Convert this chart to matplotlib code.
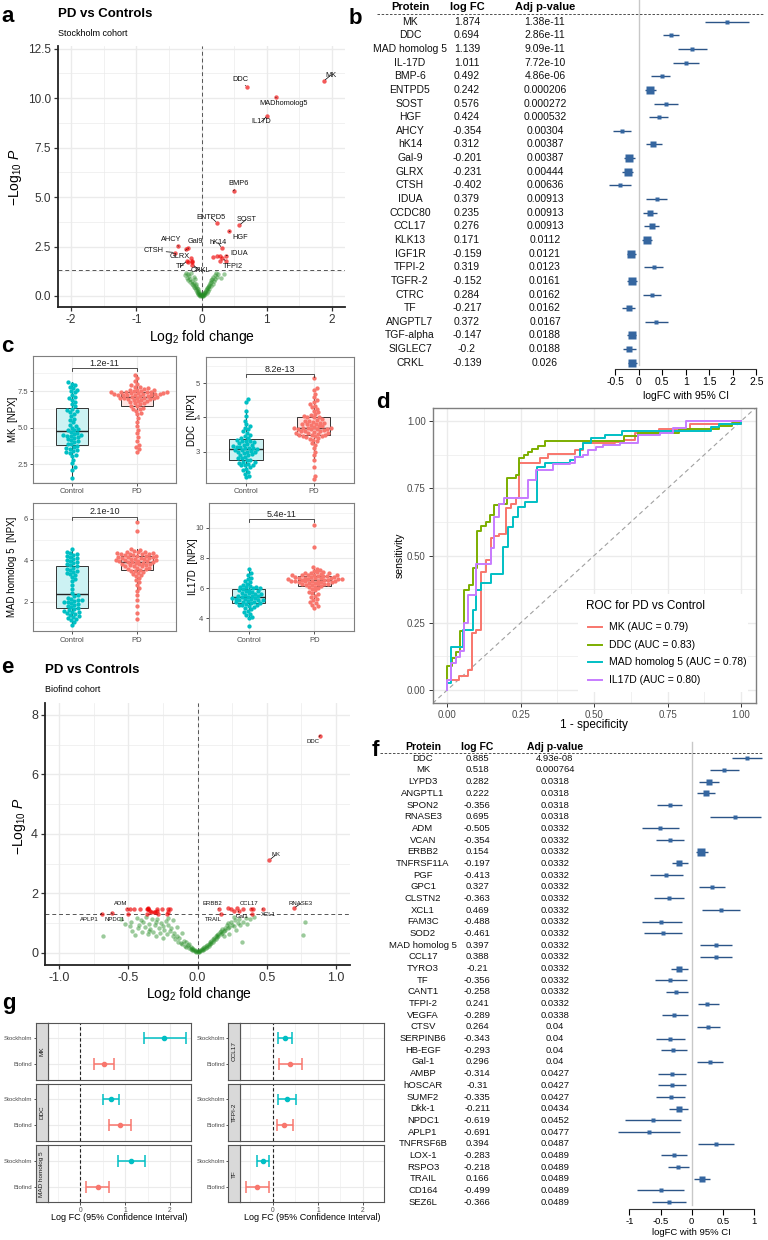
import numpy as np
import matplotlib
matplotlib.use('Agg')
import matplotlib.pyplot as plt
from matplotlib.transforms import blended_transform_factory
from matplotlib.patches import Rectangle

plt.rcParams['font.family'] = ['Liberation Sans', 'DejaVu Sans']
plt.rcParams['mathtext.fontset'] = 'custom'
plt.rcParams['mathtext.rm'] = 'Liberation Sans'
plt.rcParams['mathtext.it'] = 'Liberation Sans:italic'
plt.rcParams['axes.unicode_minus'] = False

#------------------------------------------------------------------ data
# Stockholm cohort (panel b)
b_prot = ['MK', 'DDC', 'MAD homolog 5', 'IL-17D', 'BMP-6', 'ENTPD5', 'SOST', 'HGF', 'AHCY', 'hK14',
          'Gal-9', 'GLRX', 'CTSH', 'IDUA', 'CCDC80', 'CCL17', 'KLK13', 'IGF1R', 'TFPI-2', 'TGFR-2',
          'CTRC', 'TF', 'ANGPTL7', 'TGF-alpha', 'SIGLEC7', 'CRKL']
b_fc = [1.874, 0.694, 1.139, 1.011, 0.492, 0.242, 0.576, 0.424, -0.354, 0.312,
        -0.201, -0.231, -0.402, 0.379, 0.235, 0.276, 0.171, -0.159, 0.319, -0.152,
        0.284, -0.217, 0.372, -0.147, -0.2, -0.139]
b_padj = ['1.38e-11', '2.86e-11', '9.09e-11', '7.72e-10', '4.86e-06', '0.000206', '0.000272', '0.000532',
          '0.00304', '0.00387', '0.00387', '0.00444', '0.00636', '0.00913', '0.00913', '0.00913',
          '0.0112', '0.0121', '0.0123', '0.0161', '0.0162', '0.0162', '0.0167', '0.0188', '0.0188', '0.026']
b_lo = [1.41, 0.51, 0.84, 0.74, 0.26, 0.13, 0.33, 0.22, -0.54, 0.155,
        -0.31, -0.355, -0.63, 0.155, 0.10, 0.11, 0.06, -0.24, 0.11, -0.24,
        0.09, -0.36, 0.135, -0.24, -0.33, -0.23]
b_hi = [2.35, 0.86, 1.45, 1.29, 0.67, 0.36, 0.84, 0.62, -0.17, 0.49,
        -0.08, -0.12, -0.17, 0.61, 0.38, 0.43, 0.28, -0.065, 0.52, -0.04,
        0.47, -0.08, 0.62, -0.05, -0.065, -0.04]

# Biofind cohort (panel f)
f_prot = ['DDC', 'MK', 'LYPD3', 'ANGPTL1', 'SPON2', 'RNASE3', 'ADM', 'VCAN', 'ERBB2', 'TNFRSF11A',
          'PGF', 'GPC1', 'CLSTN2', 'XCL1', 'FAM3C', 'SOD2', 'MAD homolog 5', 'CCL17', 'TYRO3', 'TF',
          'CANT1', 'TFPI-2', 'VEGFA', 'CTSV', 'SERPINB6', 'HB-EGF', 'Gal-1', 'AMBP', 'hOSCAR', 'SUMF2',
          'Dkk-1', 'NPDC1', 'APLP1', 'TNFRSF6B', 'LOX-1', 'RSPO3', 'TRAIL', 'CD164', 'SEZ6L']
f_fc = [0.885, 0.518, 0.282, 0.222, -0.356, 0.695, -0.505, -0.354, 0.154, -0.197,
        -0.413, 0.327, -0.363, 0.469, -0.488, -0.461, 0.397, 0.388, -0.21, -0.356,
        -0.258, 0.241, -0.289, 0.264, -0.343, -0.293, 0.296, -0.314, -0.31, -0.335,
        -0.211, -0.619, -0.691, 0.394, -0.283, -0.218, 0.166, -0.499, -0.366]
f_padj = ['4.93e-08', '0.000764', '0.0318', '0.0318', '0.0318', '0.0318', '0.0332', '0.0332', '0.0332', '0.0332',
          '0.0332', '0.0332', '0.0332', '0.0332', '0.0332', '0.0332', '0.0332', '0.0332', '0.0332', '0.0332',
          '0.0332', '0.0332', '0.0338', '0.04', '0.04', '0.04', '0.04', '0.0427', '0.0427', '0.0427',
          '0.0434', '0.0452', '0.0477', '0.0487', '0.0489', '0.0489', '0.0489', '0.0489', '0.0489']
f_lo = [0.64, 0.30, 0.117, 0.085, -0.56, 0.29, -0.80, -0.57, 0.07, -0.32,
        -0.67, 0.117, -0.60, 0.17, -0.80, -0.76, 0.13, 0.13, -0.34, -0.59,
        -0.42, 0.10, -0.47, 0.09, -0.58, -0.49, 0.09, -0.54, -0.54, -0.58,
        -0.365, -1.07, -1.19, 0.105, -0.49, -0.375, 0.04, -0.87, -0.63]
f_hi = [1.13, 0.76, 0.44, 0.37, -0.15, 1.11, -0.20, -0.12, 0.26, -0.065,
        -0.145, 0.53, -0.12, 0.775, -0.16, -0.155, 0.65, 0.64, -0.065, -0.08,
        -0.055, 0.44, -0.065, 0.455, -0.10, -0.08, 0.51, -0.09, -0.09, -0.10,
        -0.055, -0.17, -0.19, 0.68, -0.07, -0.04, 0.29, -0.12, -0.09]

# non-significant proteins in the volcano plots (log2FC, -log10 P)
stk_ns = [(-0.26, 1.05), (-0.24, 1.18), (-0.22, 0.92), (-0.21, 1.1), (-0.2, 0.8), (-0.19, 1.0), (-0.18, 0.7),
          (-0.17, 0.88), (-0.16, 1.15), (-0.15, 0.62), (-0.14, 0.78), (-0.13, 0.55), (-0.12, 0.95), (-0.12, 0.45),
          (-0.11, 0.68), (-0.1, 0.38), (-0.1, 0.85), (-0.09, 0.52), (-0.08, 0.3), (-0.08, 0.6), (-0.07, 0.22),
          (-0.07, 0.42), (-0.06, 0.15), (-0.06, 0.33), (-0.05, 0.1), (-0.05, 0.25), (-0.04, 0.06), (-0.04, 0.18),
          (-0.03, 0.04), (-0.03, 0.12), (-0.02, 0.02), (-0.02, 0.08), (-0.01, 0.03), (0.0, 0.01), (0.01, 0.04),
          (0.02, 0.07), (0.02, 0.02), (0.03, 0.1), (0.04, 0.14), (0.04, 0.05), (0.05, 0.18), (0.06, 0.22),
          (0.06, 0.1), (0.07, 0.28), (0.08, 0.33), (0.08, 0.16), (0.09, 0.4), (0.1, 0.46), (0.1, 0.24),
          (0.11, 0.52), (0.12, 0.58), (0.12, 0.34), (0.13, 0.65), (0.14, 0.72), (0.15, 0.5), (0.15, 0.8),
          (0.16, 0.88), (0.17, 0.62), (0.18, 0.95), (0.19, 0.75), (0.2, 1.05), (0.21, 0.85), (0.22, 1.15),
          (0.24, 0.98), (0.26, 1.1), (0.35, 1.12), (0.3, 0.9)]
bio_ns = [(-0.68, 0.56), (-0.55, 1.12), (-0.52, 0.98), (-0.49, 0.90), (-0.48, 1.05), (-0.47, 0.75), (-0.45, 0.60),
          (-0.44, 1.18), (-0.43, 0.85), (-0.42, 0.95), (-0.41, 1.10), (-0.40, 0.70), (-0.39, 1.02), (-0.38, 0.88),
          (-0.37, 1.20), (-0.36, 0.62), (-0.35, 0.98), (-0.34, 0.80), (-0.33, 1.12), (-0.32, 0.71), (-0.31, 0.92),
          (-0.30, 1.05), (-0.30, 0.55), (-0.29, 1.15), (-0.28, 0.84), (-0.27, 0.66), (-0.26, 1.00), (-0.25, 0.90),
          (-0.25, 0.50), (-0.24, 0.78), (-0.23, 1.08), (-0.22, 0.62), (-0.21, 0.95), (-0.20, 0.72), (-0.19, 0.85),
          (-0.18, 1.10), (-0.18, 0.55), (-0.17, 0.68), (-0.16, 0.45), (-0.15, 0.58), (-0.14, 0.38), (-0.13, 0.50),
          (-0.12, 0.32), (-0.11, 0.65), (-0.11, 0.28), (-0.10, 0.40), (-0.09, 0.22), (-0.08, 0.37), (-0.08, 0.18),
          (-0.07, 0.26), (-0.06, 0.15), (-0.06, 0.30), (-0.05, 0.12), (-0.05, 0.20), (-0.04, 0.10), (-0.04, 0.17),
          (-0.03, 0.08), (-0.03, 0.14), (-0.02, 0.06), (-0.02, 0.10), (-0.01, 0.04), (-0.01, 0.07), (0.00, 0.02),
          (0.00, 0.05), (0.01, 0.03), (0.01, 0.07), (0.02, 0.09), (0.02, 0.05), (0.03, 0.12), (0.03, 0.08),
          (0.04, 0.15), (0.04, 0.10), (0.05, 0.18), (0.05, 0.13), (0.06, 0.22), (0.06, 0.16), (0.07, 0.26),
          (0.07, 0.20), (0.08, 0.30), (0.08, 0.24), (0.09, 0.35), (0.09, 0.28), (0.10, 0.40), (0.10, 0.32),
          (0.11, 0.45), (0.11, 0.36), (0.12, 0.50), (0.12, 0.42), (0.13, 0.55), (0.13, 0.46), (0.14, 0.60),
          (0.14, 0.52), (0.15, 0.64), (0.15, 0.56), (0.16, 0.70), (0.17, 0.62), (0.17, 0.75), (0.18, 0.68),
          (0.18, 0.80), (0.19, 0.72), (0.20, 0.85), (0.20, 0.78), (0.21, 0.92), (0.22, 0.82), (0.22, 1.00),
          (0.23, 0.88), (0.24, 1.05), (0.25, 0.95), (0.26, 1.21), (0.26, 0.90), (0.27, 1.10), (0.28, 0.76),
          (0.29, 1.00), (0.30, 1.15), (0.31, 0.92), (0.32, 0.37), (0.33, 1.05), (0.35, 1.18), (0.36, 0.98),
          (0.38, 1.12), (0.41, 1.22), (0.76, 0.59), (0.774, 1.02), (0.19, 0.55), (0.23, 0.62), (-0.15, 0.88),
          (-0.21, 1.18), (-0.35, 0.72)]

# panel c: NPX values per group
mk_ctrl = [1.55, 2.1, 2.3, 2.55, 2.8, 3.05, 3.15, 3.3, 3.4, 3.45, 3.55, 3.6, 3.65, 3.75, 3.85, 3.9, 4.0, 4.05,
           4.15, 4.2, 4.3, 4.35, 4.4, 4.45, 4.5, 4.5, 4.55, 4.6, 4.7, 4.8, 4.85, 4.9, 5.0, 5.1, 5.2, 5.35, 5.5,
           5.6, 5.8, 5.95, 6.05, 6.15, 6.2, 6.3, 6.45, 6.6, 6.75, 6.9, 7.0, 7.1, 7.25, 7.4, 7.5, 7.6, 7.7, 7.8,
           7.9, 8.0, 8.1, 3.25]
mk_pd = [3.3, 3.5, 3.65, 3.8, 4.1, 4.35, 4.6, 4.85, 5.1, 5.4, 5.65, 5.9, 6.0, 6.15, 6.25, 6.3, 6.35, 6.45, 6.5,
         6.6, 6.65, 6.7, 6.75, 6.8, 6.85, 6.9, 6.9, 6.95, 7.0, 7.0, 7.05, 7.05, 7.1, 7.1, 7.15, 7.15, 7.2, 7.2,
         7.25, 7.25, 7.3, 7.3, 7.3, 7.35, 7.35, 7.4, 7.4, 7.4, 7.45, 7.45, 7.5, 7.5, 7.55, 7.6, 7.6, 7.65, 7.7,
         7.75, 7.8, 7.9, 8.0, 8.2, 8.4, 8.6, 7.35, 7.2, 7.0, 6.95, 7.45, 7.3]
ddc_ctrl = [2.25, 2.3, 2.35, 2.4, 2.45, 2.5, 2.55, 2.6, 2.62, 2.65, 2.68, 2.7, 2.75, 2.8, 2.85, 2.9, 2.92, 2.95,
            2.98, 3.0, 3.02, 3.05, 3.05, 3.08, 3.1, 3.12, 3.15, 3.17, 3.2, 3.22, 3.25, 3.28, 3.3, 3.32, 3.35, 3.4,
            3.45, 3.5, 3.55, 3.6, 3.65, 3.7, 3.75, 3.8, 3.9, 4.05, 4.2, 4.45, 4.55, 2.7, 2.8, 2.9, 3.0, 3.1, 3.2,
            2.6, 3.3, 3.4, 2.75, 3.15]
ddc_pd = [2.2, 2.3, 2.55, 2.75, 2.9, 3.0, 3.1, 3.2, 3.25, 3.3, 3.35, 3.38, 3.4, 3.42, 3.45, 3.47, 3.5, 3.5, 3.52,
          3.55, 3.55, 3.58, 3.6, 3.6, 3.62, 3.65, 3.65, 3.67, 3.68, 3.7, 3.7, 3.72, 3.75, 3.75, 3.78, 3.8, 3.82,
          3.85, 3.88, 3.9, 3.92, 3.95, 4.0, 4.02, 4.05, 4.08, 4.1, 4.15, 4.2, 4.25, 4.3, 4.35, 4.4, 4.45, 4.5,
          4.6, 4.7, 4.8, 4.85, 5.15, 3.5, 3.6, 3.7, 3.8, 3.9, 4.0, 3.45, 3.55, 3.65, 3.85]
mad_ctrl = [0.85, 1.0, 1.1, 1.15, 1.2, 1.3, 1.35, 1.45, 1.5, 1.55, 1.6, 1.65, 1.7, 1.75, 1.8, 1.85, 1.9, 1.95,
            2.0, 2.05, 2.1, 2.1, 2.15, 2.2, 2.25, 2.3, 2.4, 2.6, 2.8, 3.0, 3.1, 3.2, 3.3, 3.35, 3.4, 3.45, 3.5,
            3.55, 3.6, 3.65, 3.7, 3.75, 3.8, 3.85, 3.9, 3.95, 4.0, 4.05, 4.1, 4.15, 4.2, 4.25, 4.3, 4.35, 4.4,
            4.55, 1.25, 1.4, 1.5, 2.0]
mad_pd = [1.15, 1.45, 1.8, 2.1, 2.3, 2.5, 2.65, 2.8, 2.95, 3.05, 3.15, 3.25, 3.3, 3.4, 3.45, 3.5, 3.55, 3.6,
          3.62, 3.65, 3.7, 3.72, 3.75, 3.78, 3.8, 3.82, 3.85, 3.88, 3.9, 3.92, 3.95, 3.95, 3.98, 4.0, 4.02, 4.05,
          4.05, 4.08, 4.1, 4.12, 4.15, 4.15, 4.18, 4.2, 4.22, 4.25, 4.28, 4.3, 4.32, 4.35, 4.38, 4.4, 4.42, 4.45,
          4.5, 4.55, 5.4, 5.85, 3.7, 3.8, 3.9, 4.0, 4.1, 4.2, 4.3, 3.6, 3.5, 3.35, 4.25, 4.35]
il17d_ctrl = [3.5, 4.0, 4.1, 4.2, 4.3, 4.4, 4.5, 4.6, 4.7, 4.75, 4.8, 4.85, 4.9, 4.95, 5.0, 5.0, 5.05, 5.1, 5.15,
              5.2, 5.2, 5.25, 5.3, 5.3, 5.35, 5.4, 5.4, 5.45, 5.5, 5.5, 5.55, 5.6, 5.65, 5.7, 5.75, 5.8, 5.85,
              5.9, 5.95, 6.0, 6.05, 6.1, 6.1, 6.15, 6.2, 6.3, 6.4, 6.5, 6.6, 6.7, 6.85, 7.0, 7.3, 4.9, 5.1, 5.2,
              5.35, 5.6, 5.8, 6.0]
il17d_pd = [4.7, 4.8, 4.9, 5.0, 5.1, 5.2, 5.3, 5.4, 5.5, 5.6, 5.7, 5.85, 6.0, 6.05, 6.1, 6.15, 6.2, 6.25, 6.3,
            6.3, 6.35, 6.4, 6.4, 6.45, 6.5, 6.5, 6.55, 6.55, 6.6, 6.6, 6.65, 6.65, 6.7, 6.7, 6.75, 6.75, 6.8,
            6.8, 6.85, 6.85, 6.9, 6.9, 6.95, 7.0, 7.0, 7.05, 7.1, 7.15, 7.2, 7.3, 7.4, 8.75, 10.2, 6.2, 6.4, 6.6,
            6.8, 7.0, 6.3, 6.5, 6.7, 6.9, 6.35, 6.55, 6.45, 6.75, 6.6, 6.5, 5.75, 5.95]
c_pvals = ['1.2e-11', '8.2e-13', '2.1e-10', '5.4e-11']

# panel d: ROC step points (1 - specificity, sensitivity)
mk_fpr = [0, 0, 0.04, 0.07, 0.085, 0.099, 0.113, 0.13, 0.147, 0.16, 0.175, 0.198, 0.215, 0.232, 0.244, 0.316,
          0.344, 0.435, 0.463, 0.57, 0.60, 0.638, 0.72, 0.825, 1.0]
mk_tpr = [0, 0.037, 0.05, 0.074, 0.21, 0.223, 0.44, 0.483, 0.564, 0.573, 0.58, 0.675, 0.69, 0.713, 0.843, 0.861,
          0.877, 0.892, 0.917, 0.923, 0.93, 0.954, 0.972, 0.99, 1.0]
ddc_fpr = [0, 0, 0.017, 0.028, 0.042, 0.056, 0.075, 0.087, 0.10, 0.115, 0.13, 0.145, 0.158, 0.175, 0.203, 0.232,
           0.244, 0.26, 0.273, 0.288, 0.31, 0.333, 0.6, 0.65, 0.79, 0.926, 0.97, 1.0]
ddc_tpr = [0, 0.087, 0.118, 0.14, 0.22, 0.372, 0.39, 0.453, 0.591, 0.61, 0.625, 0.65, 0.688, 0.69, 0.787, 0.80,
           0.861, 0.874, 0.886, 0.898, 0.907, 0.927, 0.945, 0.957, 0.969, 0.981, 0.993, 1.0]
mad_fpr = [0, 0, 0.013, 0.054, 0.087, 0.099, 0.113, 0.147, 0.189, 0.208, 0.223, 0.24, 0.265, 0.305, 0.333, 0.418,
           0.435, 0.45, 0.463, 0.49, 0.537, 0.593, 0.898, 0.926, 1.0]
mad_tpr = [0, 0.025, 0.161, 0.223, 0.297, 0.372, 0.397, 0.431, 0.533, 0.607, 0.644, 0.681, 0.70, 0.83, 0.843,
           0.855, 0.868, 0.898, 0.917, 0.938, 0.948, 0.964, 0.979, 0.99, 1.0]
il17d_fpr = [0, 0, 0.013, 0.028, 0.042, 0.056, 0.07, 0.099, 0.147, 0.16, 0.175, 0.192, 0.273, 0.303, 0.361,
             0.418, 0.435, 0.463, 0.48, 0.505, 0.531, 0.587, 0.65, 0.723, 0.768, 0.813, 1.0]
il17d_tpr = [0, 0.037, 0.099, 0.124, 0.143, 0.248, 0.353, 0.468, 0.527, 0.644, 0.69, 0.713, 0.781, 0.818, 0.84,
             0.846, 0.868, 0.874, 0.892, 0.905, 0.911, 0.917, 0.948, 0.957, 0.975, 1.0, 1.0]
roc_labels = ['MK (AUC = 0.79)', 'DDC (AUC = 0.83)', 'MAD homolog 5 (AUC = 0.78)', 'IL17D (AUC = 0.80)']

# panel g genes
g_genes = ['MK', 'DDC', 'MAD homolog 5', 'CCL17', 'TFPI-2', 'TF']

#---------------------------------------------------------------- figure
W, H = 768, 1240
fig = plt.figure(figsize=(7.68, 12.4), dpi=100)

def add_ax(l, t, r, b):
    return fig.add_axes([l / W, 1 - b / H, (r - l) / W, (b - t) / H])

def ftext(x, y, s, **kw):
    return fig.text(x / W, 1 - y / H, s, **kw)

GRID = '#EBEBEB'
TXT = '#4D4D4D'

def grid(ax, xs, ys, lw):
    for v in xs:
        ax.axvline(v, color=GRID, lw=lw, zorder=0)
    for v in ys:
        ax.axhline(v, color=GRID, lw=lw, zorder=0)

#--------------------------------------------------------------- volcano
def volcano(box, xlim, ylim, ns, fc, padj, names, labels, xt, xtl, xm, yt, ytl, ym, tsize, lsize):
    ax = add_ax(*box)
    ax.set_xlim(xlim)
    ax.set_ylim(ylim)
    grid(ax, xm, ym, 0.5)
    grid(ax, xt, yt, 1.0)
    ns = np.array(ns)
    ax.scatter(ns[:, 0], ns[:, 1], s=10, color='forestgreen', alpha=0.45, lw=0, zorder=2)
    y = -np.log10([float(p) for p in padj])
    ax.scatter(fc, y, s=10, color='#EE0000', alpha=0.65, lw=0, zorder=3)
    ax.axhline(-np.log10(0.05), color='#555555', ls=(0, (4, 3)), lw=0.7, zorder=1)
    ax.axvline(0, color='#555555', ls=(0, (4, 3)), lw=0.7, zorder=1)
    for name, (txt, tx, ty) in labels.items():
        i = names.index(name)
        ax.annotate(txt, xy=(fc[i], y[i]), xytext=(tx, ty), fontsize=lsize, ha='center', va='center',
                    color='#111111', zorder=4,
                    arrowprops=dict(arrowstyle='-', lw=0.5, color='black', shrinkA=0, shrinkB=1.5))
    for s in ('top', 'right'):
        ax.spines[s].set_visible(False)
    for s in ('left', 'bottom'):
        ax.spines[s].set_linewidth(1.3)
        ax.spines[s].set_color('#222222')
    ax.set_xticks(xt, xtl)
    ax.set_yticks(yt, ytl)
    ax.tick_params(length=3, width=0.9, color='#333333', labelsize=tsize, labelcolor='#333333', pad=2)
    return ax

a_lab = {'MK': ('MK', 1.98, 11.15), 'DDC': ('DDC', 0.595, 10.96), 'MAD homolog 5': ('MADhomolog5', 1.26, 9.71),
         'IL-17D': ('IL17D', 0.918, 8.80), 'BMP-6': ('BMP6', 0.57, 5.69), 'ENTPD5': ('ENTPD5', 0.15, 3.97),
         'SOST': ('SOST', 0.687, 3.87), 'HGF': ('HGF', 0.60, 2.97), 'AHCY': ('AHCY', -0.466, 2.86),
         'Gal-9': ('Gal9', -0.092, 2.74), 'hK14': ('hK14', 0.251, 2.71), 'CTSH': ('CTSH', -0.738, 2.29),
         'GLRX': ('GLRX', -0.338, 1.99), 'IDUA': ('IDUA', 0.574, 2.16), 'TF': ('TF', -0.323, 1.48),
         'CRKL': ('CRKL', -0.015, 1.28), 'TFPI-2': ('TFPI2', 0.482, 1.48)}
volcano((58, 46, 345, 307), (-2.2, 2.2), (-0.556, 12.63), stk_ns, b_fc, b_padj, b_prot, a_lab,
        [-2, -1, 0, 1, 2], ['-2', '-1', '0', '1', '2'], [-1.5, -0.5, 0.5, 1.5],
        [0, 2.5, 5, 7.5, 10, 12.5], ['0.0', '2.5', '5.0', '7.5', '10.0', '12.5'],
        [1.25, 3.75, 6.25, 8.75, 11.25], 8.5, 5.3)
ftext(1, 17, 'a', fontsize=16, fontweight='bold', va='center')
ftext(58, 14, 'PD vs Controls', fontsize=9.5, fontweight='bold', va='center')
ftext(58, 33, 'Stockholm cohort', fontsize=6.5, va='center')
ftext(15, 177, r'$-\mathrm{Log}_{10}\ \mathit{P}$', fontsize=10, rotation=90, ha='center', va='center')
ftext(202, 337, r'$\mathrm{Log}_{2}$ fold change', fontsize=10, ha='center', va='center')

e_lab = {'DDC': ('DDC', 0.833, 7.10), 'MK': ('MK', 0.564, 3.29), 'ADM': ('ADM', -0.553, 1.66),
         'APLP1': ('APLP1', -0.781, 1.12), 'NPDC1': ('NPDC1', -0.60, 1.12), 'ERBB2': ('ERBB2', 0.105, 1.66),
         'TRAIL': ('TRAIL', 0.112, 1.12), 'CCL17': ('CCL17', 0.372, 1.66), 'Gal-1': ('Gal1', 0.321, 1.21),
         'XCL1': ('XCL1', 0.509, 1.29), 'RNASE3': ('RNASE3', 0.744, 1.66)}
volcano((45, 703.3, 350, 965), (-1.1, 1.1), (-0.41, 8.39), bio_ns, f_fc, f_padj, f_prot, e_lab,
        [-1, -0.5, 0, 0.5, 1], ['-1.0', '-0.5', '0.0', '0.5', '1.0'], [-0.75, -0.25, 0.25, 0.75],
        [0, 2, 4, 6, 8], ['0', '2', '4', '6', '8'], [1, 3, 5, 7], 9, 4.3)
ftext(1, 667, 'e', fontsize=16, fontweight='bold', va='center')
ftext(45, 670, 'PD vs Controls', fontsize=9.5, fontweight='bold', va='center')
ftext(45, 689, 'Biofind cohort', fontsize=6.5, va='center')
ftext(20, 826, r'$-\mathrm{Log}_{10}\ \mathit{P}$', fontsize=10, rotation=90, ha='center', va='center')
ftext(199, 994, r'$\mathrm{Log}_{2}$ fold change', fontsize=10, ha='center', va='center')

#------------------------------------------------------------ forest tables
def forest(box, prot, fc, padj, lo, hi, row0, dy, x0px, ppu, bounds, ticks, cols,
           head_px, dash_px, dash_x, vtop_px, fs, hfs, mscale, mmin, xlab_px):
    l, t, r, b = box
    ax = add_ax(l, t, r, b)
    ax.patch.set_alpha(0)
    ax.set_xlim((l - x0px) / ppu, (r - x0px) / ppu)
    ax.set_ylim((b - row0) / dy, (t - row0) / dy)
    rows = np.arange(len(prot))
    ax.plot([0, 0], [(vtop_px - row0) / dy, (b - 4 - row0) / dy], color='#C8C8C8', lw=1, zorder=1)
    ax.hlines(rows, lo, hi, color='#2B5487', lw=1.0, zorder=2)
    for i in rows:
        ms = float(np.clip(mscale / (hi[i] - lo[i]), mmin, 5.3))
        ax.plot(fc[i], i, marker='s', ms=ms, color='#3566A0', mec='none', zorder=3)
    tr = blended_transform_factory(fig.transFigure, ax.transData)
    for i in rows:
        for cx, s in zip(cols, (prot[i], f'{fc[i]:g}', padj[i])):
            ax.text(cx / W, i, s, transform=tr, ha='center', va='center', fontsize=fs, color='#111111')
    hy = (head_px - row0) / dy
    for cx, s in zip(cols, ('Protein', 'log FC', 'Adj p-value')):
        ax.text(cx / W, hy, s, transform=tr, ha='center', va='center', fontsize=hfs, fontweight='bold')
    yd = (dash_px - row0) / dy
    ax.plot([dash_x[0] / W, dash_x[1] / W], [yd, yd], transform=tr, color='#333333', lw=0.6,
            ls=(0, (3, 2)), clip_on=False)
    for s in ('top', 'right', 'left'):
        ax.spines[s].set_visible(False)
    ax.spines['bottom'].set_bounds(bounds[0], bounds[1])
    ax.spines['bottom'].set_color('#333333')
    ax.set_xticks(ticks, [f'{v:g}' for v in ticks])
    ax.tick_params(axis='x', length=4, width=0.8, labelsize=fs, pad=2)
    ax.set_yticks([])
    ftext(x0px + ppu * (bounds[0] + bounds[1]) / 2, xlab_px, 'logFC with 95% CI',
          ha='center', va='center', fontsize=fs)

forest((590, 0, 768, 369), b_prot, b_fc, b_padj, b_lo, b_hi, 21.7, 13.64, 638.7, 47, (-0.5, 2.5),
       [-0.5, 0, 0.5, 1, 1.5, 2, 2.5], (410, 467, 545), 7.3, 14, (377, 763), 0, 7.5, 8, 1.25, 2.8, 396)
ftext(349, 18, 'b', fontsize=16, fontweight='bold', va='center')

forest((600, 740, 768, 1209), f_prot, f_fc, f_padj, f_lo, f_hi, 758.3, 11.68, 691.7, 62.3, (-1, 1),
       [-1, -0.5, 0, 0.5, 1], (423, 477.3, 555), 746.7, 752.7, (380, 763), 741.7, 6.8, 7.5, 1.2, 2.4, 1232.7)
ftext(372, 750, 'f', fontsize=16, fontweight='bold', va='center')

#------------------------------------------------------------ box plots
def swarm(ax, xc, vals, d_px):
    pts = ax.transData.transform(np.column_stack([np.full(len(vals), xc), vals]))
    ys = pts[:, 1]
    order = np.argsort(ys)
    placed = []
    offs = np.zeros(len(vals))
    for idx in order:
        y = ys[idx]
        cands = [0.0]
        for xo, yo in placed:
            dyy = abs(y - yo)
            if dyy < d_px:
                dx = np.sqrt(d_px ** 2 - dyy ** 2)
                cands += [xo + dx, xo - dx]
        cands = sorted(cands, key=abs)
        for c in cands:
            if all((c - xo) ** 2 + (y - yo) ** 2 >= d_px ** 2 - 1e-6 for xo, yo in placed):
                break
        placed.append((c, y))
        offs[idx] = c
    ppx = ax.transData.transform([[1, 0]])[0, 0] - ax.transData.transform([[0, 0]])[0, 0]
    return xc + offs / ppx

def boxpanel(box, ctrl, pd, ylim, yt, ylab, ylab_x, bry, ptxt):
    ax = add_ax(*box)
    ax.set_xlim(0.4, 2.6)
    ax.set_ylim(ylim)
    step = yt[1] - yt[0]
    minors = [v for v in np.arange(yt[0] - step / 2, ylim[1], step) if ylim[0] < v < ylim[1]]
    grid(ax, [], minors, 0.4)
    grid(ax, [1, 2], yt, 0.8)
    bp = ax.boxplot([ctrl, pd], positions=[1, 2], widths=0.5, patch_artist=True, showfliers=False,
                    whis=1.5, zorder=2,
                    medianprops=dict(color='#222222', lw=1.0),
                    whiskerprops=dict(color='#333333', lw=0.7),
                    capprops=dict(lw=0), boxprops=dict(lw=0.7, edgecolor='#333333'))
    for patch, fcol in zip(bp['boxes'], ('#CCF2F3', '#FEE4E2')):
        patch.set_facecolor(fcol)
    for xc, vals, col in ((1, ctrl, '#00BFC4'), (2, pd, '#F8766D')):
        xs = swarm(ax, xc, vals, 3.75)
        ax.scatter(xs, vals, s=9.5, color=col, lw=0, zorder=3)
    ppy = (box[3] - box[1]) / (ylim[1] - ylim[0])
    d = 3 / ppy
    ax.plot([1, 1, 2, 2], [bry - d, bry, bry, bry - d], color='#333333', lw=0.6, zorder=4)
    ax.text(1.5, bry + 0.4 / ppy, ptxt, ha='center', va='bottom', fontsize=6.5, color='#222222')
    for s in ax.spines.values():
        s.set_color('#7F7F7F')
        s.set_linewidth(0.8)
    ax.set_xticks([1, 2], ['Control', 'PD'])
    ax.set_yticks(yt, [f'{v:g}' if v != int(v) or step != 2.5 else f'{v:.1f}' for v in yt])
    ax.tick_params(length=2.5, width=0.6, color='#333333', labelsize=5.5, labelcolor=TXT, pad=1.5)
    ftext(ylab_x, (box[1] + box[3]) / 2, ylab, rotation=90, ha='center', va='center', fontsize=7)

boxpanel((33.3, 355.7, 176, 482.7), mk_ctrl, mk_pd, (1.22, 9.92), [2.5, 5.0, 7.5], 'MK  [NPX]', 13, 9.05, c_pvals[0])
boxpanel((205.7, 356.7, 354, 482.7), ddc_ctrl, ddc_pd, (2.09, 5.78), [3, 4, 5], 'DDC  [NPX]', 191.7, 5.26, c_pvals[1])
boxpanel((33.3, 503, 176, 631), mad_ctrl, mad_pd, (0.58, 6.77), [2, 4, 6], 'MAD homolog 5  [NPX]', 12, 6.11, c_pvals[2])
boxpanel((209, 503, 354, 631), il17d_ctrl, il17d_pd, (3.16, 11.64), [4, 6, 8, 10], 'IL17D  [NPX]', 193, 10.56, c_pvals[3])
ftext(1, 346, 'c', fontsize=16, fontweight='bold', va='center')

#------------------------------------------------------------------ ROC
ax = add_ax(432.7, 407.7, 755.7, 703.3)
ax.set_xlim(-0.05, 1.05)
ax.set_ylim(-0.05, 1.05)
grid(ax, [0.125, 0.375, 0.625, 0.875], [0.125, 0.375, 0.625, 0.875], 0.5)
grid(ax, [0, 0.25, 0.5, 0.75, 1], [0, 0.25, 0.5, 0.75, 1], 1.0)
ax.axline((0, 0), (1, 1), color='#A0A0A0', ls=(0, (4, 3)), lw=0.8, zorder=1)
roc_cols = ['#F8766D', '#7CAE00', '#00BFC4', '#C77CFF']
for fpr, tpr, col in zip((mk_fpr, ddc_fpr, mad_fpr, il17d_fpr), (mk_tpr, ddc_tpr, mad_tpr, il17d_tpr), roc_cols):
    ax.step(fpr, tpr, where='post', color=col, lw=1.4, zorder=3)
for s in ax.spines.values():
    s.set_color('#7F7F7F')
    s.set_linewidth(1.0)
ticks = [0, 0.25, 0.5, 0.75, 1]
ax.set_xticks(ticks, [f'{v:.2f}' for v in ticks])
ax.set_yticks(ticks, [f'{v:.2f}' for v in ticks])
ax.tick_params(length=3, width=0.7, color='#333333', labelsize=7, labelcolor=TXT, pad=2)

def fx(px):
    return (px - 432.7) / 323

def fy(py):
    return (703.3 - py) / 295.6

ax.add_patch(Rectangle((fx(578), fy(692)), fx(748) - fx(578), fy(594) - fy(692), transform=ax.transAxes,
                       facecolor='white', edgecolor='none', zorder=4))
ax.text(fx(586), fy(606), 'ROC for PD vs Control', transform=ax.transAxes, fontsize=8.5, va='center', zorder=5)
for k, (lab, col) in enumerate(zip(roc_labels, roc_cols)):
    yy = fy(626.7 + k * 17.8)
    ax.plot([fx(588), fx(602)], [yy, yy], transform=ax.transAxes, color=col, lw=1.4, zorder=5)
    ax.text(fx(609.3), yy, lab, transform=ax.transAxes, fontsize=7.5, va='center', zorder=5)
ftext(400, 555.5, 'sensitivity', rotation=90, ha='center', va='center', fontsize=7.5)
ftext(594, 725, '1 - specificity', ha='center', va='center', fontsize=8.5)
ftext(376, 403, 'd', fontsize=16, fontweight='bold', va='center')

#----------------------------------------------------------- panel g
rows_px = [(1022.7, 1080), (1084, 1140.7), (1145.3, 1202.3)]
cols_px = [(36, 47.7, 191), (228.3, 240, 384)]
for k, gene in enumerate(g_genes):
    c, r = divmod(k, 3)
    sl, pl, pr = cols_px[c]
    pt, pb = rows_px[r]
    ax = add_ax(pl, pt, pr, pb)
    sax = add_ax(sl, pt, pl, pb)
    ax.set_xlim(-0.73, 2.47)
    ax.set_ylim(0.4, 2.6)
    grid(ax, [-0.5, 0.5, 1.5], [], 0.4)
    grid(ax, [0, 1, 2], [1, 2], 0.8)
    ax.axvline(0, color='#222222', ls=(0, (3, 2)), lw=0.8, zorder=1)
    i = b_prot.index(gene)
    j = f_prot.index(gene)
    for yv, est, lo, hi, col in ((2, b_fc[i], b_lo[i], b_hi[i], '#00BFC4'),
                                 (1, f_fc[j], f_lo[j], f_hi[j], '#F8766D')):
        ax.hlines(yv, lo, hi, color=col, lw=1.1, zorder=2)
        ax.vlines([lo, hi], yv - 0.23, yv + 0.23, color=col, lw=1.1, zorder=2)
        ax.plot(est, yv, 'o', ms=3, color=col, zorder=3)
    for s in ax.spines.values():
        s.set_color('#555555')
        s.set_linewidth(0.8)
    ax.set_yticks([])
    ax.set_xticks([0, 1, 2], ['0', '1', '2'] if r == 2 else [])
    ax.tick_params(axis='x', length=2 if r == 2 else 0, width=0.6, color='#333333', labelsize=4.8,
                   labelcolor=TXT, pad=1.5)
    sax.set_xlim(0, 1)
    sax.set_ylim(0.4, 2.6)
    sax.set_facecolor('#D9D9D9')
    for s in sax.spines.values():
        s.set_color('#555555')
        s.set_linewidth(0.8)
    sax.set_xticks([])
    sax.set_yticks([1, 2], ['Biofind', 'Stockholm'])
    sax.tick_params(axis='y', length=1.5, width=0.6, color='#333333', labelsize=4.4, labelcolor=TXT, pad=1)
    sax.text(0.5, 1.5, gene, rotation=90, ha='center', va='center', fontsize=4.6, color='#1A1A1A')
    if r == 2:
        ftext((pl + pr) / 2, 1217, 'Log FC (95% Confidence Interval)', ha='center', va='center', fontsize=6.5)
ftext(2, 1003, 'g', fontsize=16, fontweight='bold', va='center')

fig.savefig('out.png', dpi=100)
